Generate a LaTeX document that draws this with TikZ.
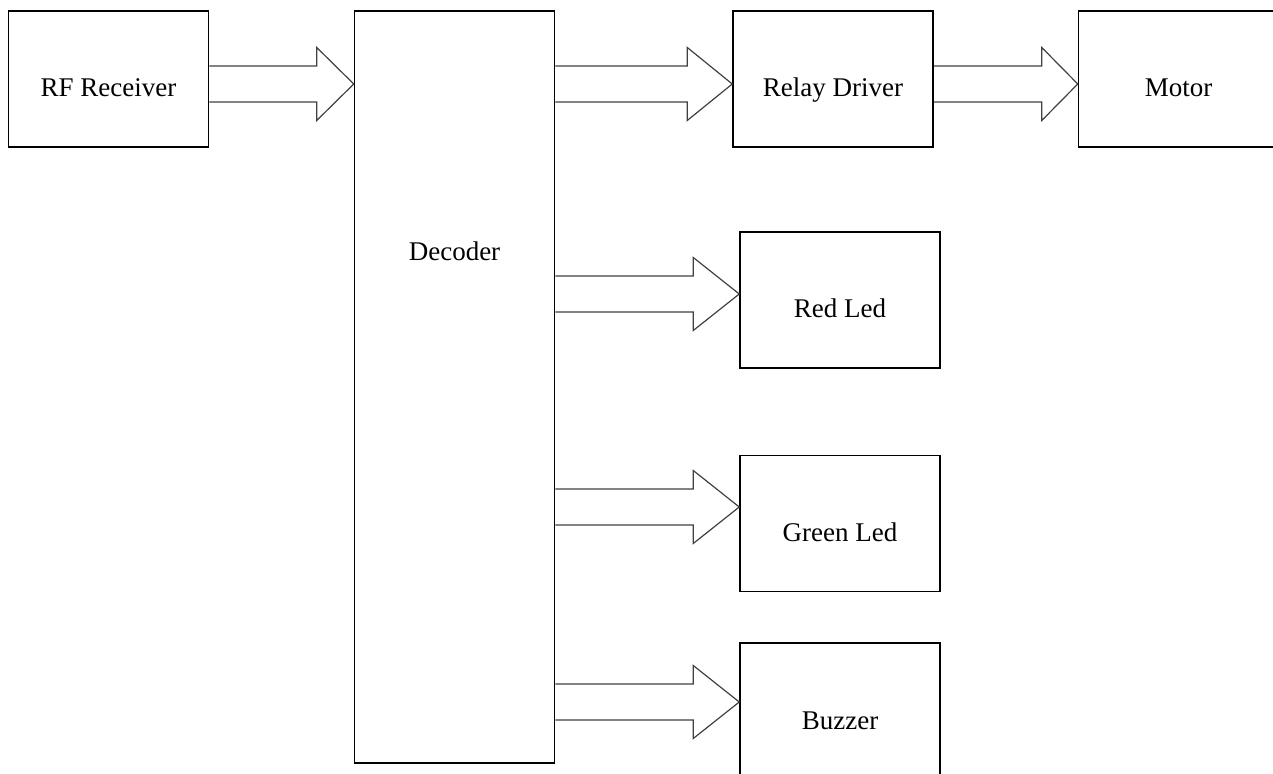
\documentclass[tikz,border=0pt]{standalone}
\usepackage{fontspec}
\setmainfont{Liberation Serif}
\usetikzlibrary{calc}

\tikzset{
  block/.style={draw, line width=0.75pt, minimum width=100pt, minimum height=68pt,
    inner sep=0pt, text height=18pt, text depth=0pt, font=\fontsize{13.5}{16}\selectfont},
  fat/.style={draw=black!75, line width=0.6pt}
}

% fat outline arrow: from node #1 to node #2 at height #3, head length #4
\newcommand{\fatarrow}[4]{%
  \draw[fat] let \p1=(#1.east), \p2=(#2.west |- 0,#3) in
    (\x1,\y2+9pt) -- (\x2-#4,\y2+9pt) -- (\x2-#4,\y2+18.25pt) -- (\x2,\y2)
    -- (\x2-#4,\y2-18.25pt) -- (\x2-#4,\y2-9pt) -- (\x1,\y2-9pt);
}

\begin{document}
\begin{tikzpicture}[x=0.5pt,y=-0.5pt]

    \useasboundingbox (0,0) rectangle (1273,774);

    % Blocks
    \node[block] (rf) at (108.5,79) {RF Receiver};
    \node[block, minimum height=376pt] (decoder) at (454.5,387) {};
    \node[font=\fontsize{13.5}{16}\selectfont] (decoder_text) at (454.5,251) {Decoder};
    \node[block] (relay) at (833,79) {Relay Driver};
    \node[block] (motor) at (1178.5,79) {Motor};
    \node[block] (red_led) at (840,300) {Red Led};
    \node[block] (green_led) at (840,523.5) {Green Led};
    \node[block] (buzzer) at (840,711) {Buzzer};

    % Arrows
    \fatarrow{rf}{decoder}{84}{18.5pt}
    \fatarrow{decoder}{relay}{84}{22.5pt}
    \fatarrow{relay}{motor}{84}{18pt}
    \fatarrow{decoder}{red_led}{294}{23pt}
    \fatarrow{decoder}{green_led}{507}{23pt}
    \fatarrow{decoder}{buzzer}{702}{23pt}

\end{tikzpicture}
\end{document}
